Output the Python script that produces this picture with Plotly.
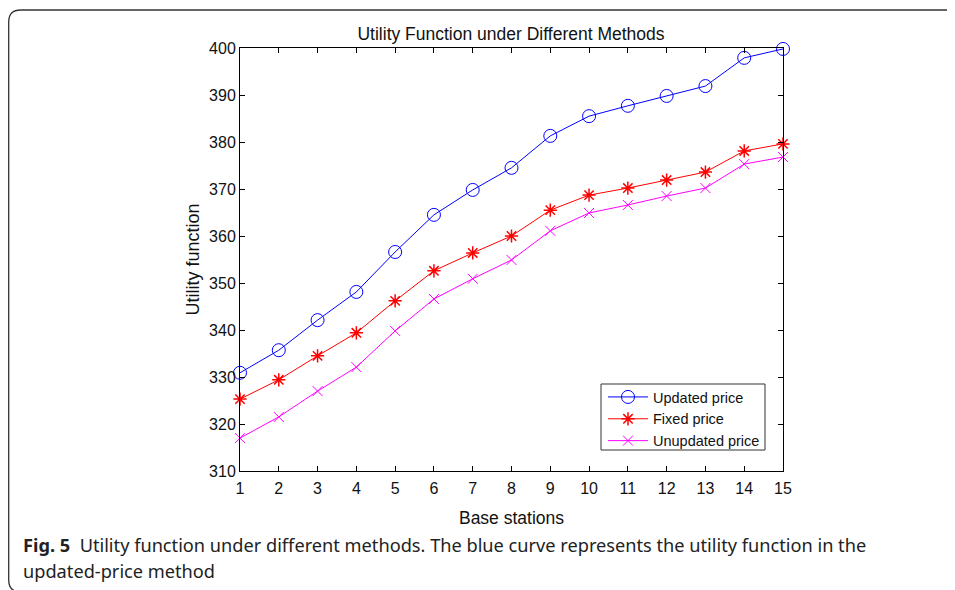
import plotly.graph_objects as go

stations = list(range(1, 16))
updated_price = [330.9, 335.7, 342.1, 348.1, 356.6, 364.5, 369.8, 374.5, 381.3, 385.5, 387.7, 389.8, 391.9, 397.9, 399.8]
fixed_price = [325.3, 329.4, 334.5, 339.4, 346.2, 352.6, 356.4, 360.0, 365.5, 368.7, 370.2, 371.9, 373.6, 378.1, 379.6]
unupdated_price = [317.0, 321.5, 327.0, 332.1, 339.8, 346.6, 350.9, 354.9, 361.1, 364.9, 366.6, 368.5, 370.2, 375.3, 376.8]
x_ticks = list(range(1, 16))
y_ticks = list(range(310, 401, 10))

# page has an 8px body margin; the figure therefore starts at (8, 8)
OFF = 8
W, H = 955 - OFF, 590 - OFF
PX0, PX1, PY0, PY1 = 240, 783, 48, 471  # plot area in page pixels
L, T = PX0 - OFF, PY0 - OFF
R, B = W - (PX1 - OFF), H - (PY1 - OFF)
PW, PH = PX1 - PX0, PY1 - PY0

def px(x):
    return (x - PX0) / PW

def py(y):
    return (PY1 - y) / PH

fig = go.Figure()
fig.add_trace(go.Scatter(x=stations, y=updated_price, mode="lines+markers", name="Updated price",
                         cliponaxis=False, line=dict(color="#0000ff", width=1),
                         marker=dict(symbol="circle-open", size=13, color="#0000ff", line=dict(width=1))))
fig.add_trace(go.Scatter(x=stations, y=fixed_price, mode="lines+markers", name="Fixed price",
                         cliponaxis=False, line=dict(color="#ff0000", width=1),
                         marker=dict(symbol="asterisk-open", size=11, color="#ff0000", line=dict(width=1.5, color="#ff0000"))))
fig.add_trace(go.Scatter(x=stations, y=unupdated_price, mode="lines+markers", name="Unupdated price",
                         cliponaxis=False, line=dict(color="#ff00ff", width=1),
                         marker=dict(symbol="x-thin-open", size=10, color="#ff00ff", line=dict(width=1, color="#ff00ff"))))

FONT = "Liberation Sans, Arial"
axis_common = dict(showgrid=False, zeroline=False, showline=True, linecolor="black", linewidth=1,
                   mirror="allticks", ticks="inside", ticklen=5, tickcolor="black",
                   tickfont=dict(family=FONT, size=16, color="#111"))

fig.update_xaxes(range=[1, 15], tickvals=x_ticks, ticklabelstandoff=3,
                 title=dict(text="Base stations", standoff=15,
                            font=dict(family=FONT, size=17.5, color="#111")), **axis_common)
fig.update_yaxes(range=[310, 400], tickvals=y_ticks, title=dict(text="Utility function", standoff=4,
                 font=dict(family=FONT, size=18, color="#111")), **axis_common)

# rounded frame
x0, y0, x1, y1 = px(8.7), py(10), px(975), py(592)
rx, ry = 12 / PW, 12 / PH
path = (f"M {x1},{y0} L {x0+rx},{y0} Q {x0},{y0} {x0},{y0-ry} "
        f"L {x0},{y1+ry} Q {x0},{y1} {x0+rx},{y1} L {x1},{y1}")
fig.add_shape(type="path", path=path, xref="paper", yref="paper", line=dict(color="#333", width=1.3))

# legend box
fig.add_shape(type="rect", xref="paper", yref="paper", x0=px(601), x1=px(765), y0=py(450), y1=py(384),
              fillcolor="white", line=dict(color="#333", width=1), layer="above")

CAP = "Noto Sans"
fig.add_annotation(x=px(21), y=py(545), xref="paper", yref="paper", xanchor="left", yanchor="middle",
                   showarrow=False, align="left",
                   text="<b>Fig. 5</b>  Utility function under different methods. The blue curve represents the utility function in the",
                   font=dict(family=CAP, size=18.2, color="#222"))
fig.add_annotation(x=px(21), y=py(571), xref="paper", yref="paper", xanchor="left", yanchor="middle",
                   showarrow=False, align="left", text="updated-price method",
                   font=dict(family=CAP, size=18.2, color="#222"))

fig.update_layout(
    width=W, height=H, margin=dict(l=L, r=R, t=T, b=B),
    paper_bgcolor="white", plot_bgcolor="white",
    title=dict(text="Utility Function under Different Methods", xref="paper", x=px(511), xanchor="center",
               yref="container", y=1 - (34 - OFF) / H, yanchor="middle",
               font=dict(family=FONT, size=17.5, color="#111")),
    legend=dict(x=px(603), y=py(381), xanchor="left", yanchor="top", bgcolor="rgba(0,0,0,0)",
                borderwidth=0, font=dict(family=FONT, size=14.5, color="#111"),
                tracegroupgap=0, itemwidth=40),
    showlegend=True,
)

fig.write_html("out.html")
